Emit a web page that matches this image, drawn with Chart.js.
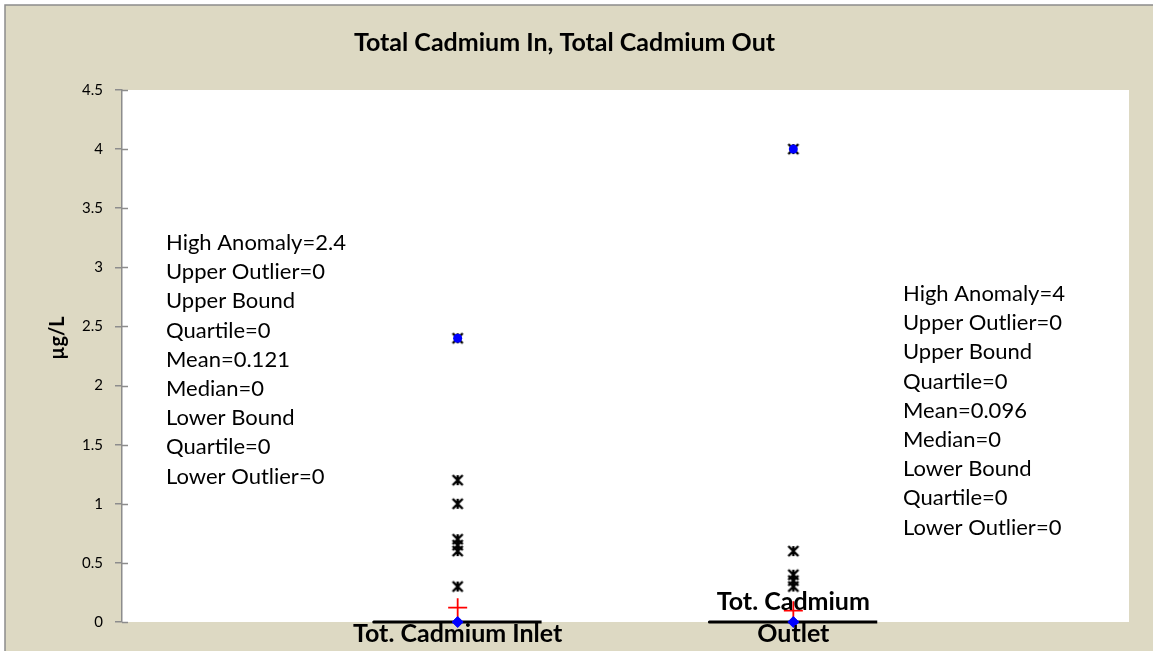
<!DOCTYPE html>
<html>
<head>
<meta charset="utf-8">
<script src="https://cdn.jsdelivr.net/npm/chart.js@4.4.0/dist/chart.umd.min.js"></script>
<style>
  html, body { margin: 0; padding: 0; background: #fff; }
  #wrap { width: 1153px; height: 651px; }
</style>
</head>
<body>
<div id="wrap"><canvas id="chart"></canvas></div>
<script>
// Data
const categories = ['Tot. Cadmium Inlet', 'Tot. Cadmium Outlet'];
const categoryLines = [['Tot. Cadmium Inlet'], ['Tot. Cadmium', 'Outlet']];
const inletValues = [2.4, 1.2, 1.0, 0.7, 0.65, 0.6, 0.3];
const outletValues = [4.0, 0.6, 0.4, 0.35, 0.3];
const highAnomaly = [2.4, 4.0];
const means = [0.121, 0.096];
const medians = [0, 0];
const lowerQuartiles = [0, 0];
const upperQuartiles = [0, 0];
const yMin = 0, yMax = 4.5, yStep = 0.5;
const yTitle = 'µg/L';

const inletStats = ['High Anomaly=2.4', 'Upper Outlier=0', 'Upper Bound', 'Quartile=0',
  'Mean=0.121', 'Median=0', 'Lower Bound', 'Quartile=0', 'Lower Outlier=0'];
const outletStats = ['High Anomaly=4', 'Upper Outlier=0', 'Upper Bound', 'Quartile=0',
  'Mean=0.096', 'Median=0', 'Lower Bound', 'Quartile=0', 'Lower Outlier=0'];

const FONT = 'Lato, "Open Sans", sans-serif';
const BOX_HALF = 0.25;

// Excel style asterisk marker
function makeAsterisk(size, color) {
  const c = document.createElement('canvas');
  c.width = c.height = size;
  const g = c.getContext('2d');
  g.strokeStyle = color;
  g.lineWidth = 2.4;
  const a = 2, b = size - 2, m = size / 2;
  g.beginPath();
  g.moveTo(a, a); g.lineTo(b, b);
  g.moveTo(b, a); g.lineTo(a, b);
  g.moveTo(m, a); g.lineTo(m, b);
  g.stroke();
  return c;
}
const asterisk = makeAsterisk(14, '#000');

const seriesByCat = [inletValues, outletValues];
const obsPoints = [];
seriesByCat.forEach((vals, i) => vals.forEach(v => obsPoints.push({ x: i + 1, y: v })));

const boxDatasets = categories.map((c, i) => {
  const x = i + 1;
  return {
    type: 'line',
    label: c + ' box',
    data: [
      { x: x - BOX_HALF, y: lowerQuartiles[i] },
      { x: x + BOX_HALF, y: lowerQuartiles[i] },
      { x: x + BOX_HALF, y: upperQuartiles[i] },
      { x: x - BOX_HALF, y: upperQuartiles[i] },
      { x: x - BOX_HALF, y: lowerQuartiles[i] }
    ],
    borderColor: '#000',
    borderWidth: 3,
    borderCapStyle: 'round',
    pointRadius: 0,
    fill: false,
    clip: false
  };
});

const bgPlugin = {
  id: 'bg',
  beforeDraw(chart) {
    const { ctx, chartArea: a, width, height } = chart;
    ctx.save();
    ctx.fillStyle = '#DDD9C3';
    ctx.fillRect(5, 5, width, height);
    ctx.strokeStyle = '#8c8c8c';
    ctx.lineWidth = 1.5;
    ctx.strokeRect(5, 5, width + 10, height + 10);
    ctx.fillStyle = '#fff';
    ctx.fillRect(a.left, a.top, a.right - a.left, a.bottom - a.top);
    ctx.restore();
  }
};

const textPlugin = {
  id: 'texts',
  afterDraw(chart) {
    const { ctx } = chart;
    const xs = chart.scales.x;
    const ys = chart.scales.y;
    const area = chart.chartArea;
    ctx.save();
    // inner half of the crossing tick marks
    ctx.strokeStyle = '#8c8c8c';
    ctx.lineWidth = 1.5;
    ys.ticks.forEach(t => {
      const py = Math.round(ys.getPixelForValue(t.value)) + 0.5;
      ctx.beginPath();
      ctx.moveTo(area.left, py);
      ctx.lineTo(area.left + 6, py);
      ctx.stroke();
    });
    // y axis title
    ctx.fillStyle = '#000';
    ctx.font = 'bold 20px ' + FONT;
    ctx.textAlign = 'center';
    ctx.textBaseline = 'middle';
    ctx.save();
    ctx.translate(58, 338);
    ctx.rotate(-Math.PI / 2);
    ctx.fillText(yTitle, 0, 0);
    ctx.restore();
    // category labels
    ctx.font = 'bold 25px ' + FONT;
    categoryLines.forEach((lines, i) => {
      const px = xs.getPixelForValue(i + 1);
      lines.forEach((ln, j) => {
        ctx.fillText(ln, px, area.bottom + 12 - (lines.length - 1 - j) * 32);
      });
    });
    // statistics text boxes
    ctx.font = '22px ' + FONT;
    ctx.textAlign = 'left';
    inletStats.forEach((s, j) => ctx.fillText(s, 166, 243 + j * 29.2));
    outletStats.forEach((s, j) => ctx.fillText(s, 903, 294 + j * 29.2));
    ctx.restore();
  }
};

new Chart(document.getElementById('chart'), {
  type: 'scatter',
  data: {
    datasets: [
      {
        label: 'Median',
        data: medians.map((v, i) => ({ x: i + 1, y: v })),
        pointStyle: 'rectRot',
        pointRadius: 5.5,
        backgroundColor: '#0000ff',
        borderColor: '#0000ff',
        borderWidth: 1,
        clip: false
      },
      {
        label: 'Mean',
        data: means.map((v, i) => ({ x: i + 1, y: v })),
        pointStyle: 'cross',
        pointRadius: 9.5,
        borderColor: '#ff0000',
        borderWidth: 1.8,
        clip: false
      },
      {
        label: 'High Anomaly',
        data: highAnomaly.map((v, i) => ({ x: i + 1, y: v })),
        pointStyle: 'circle',
        pointRadius: 4.5,
        backgroundColor: '#0000ff',
        borderColor: '#0000ff',
        borderWidth: 0
      },
      {
        label: 'Observations',
        data: obsPoints,
        pointStyle: asterisk,
        pointRadius: 7
      },
      ...boxDatasets
    ]
  },
  options: {
    responsive: true,
    maintainAspectRatio: false,
    animation: false,
    events: [],
    layout: { padding: { left: 0, right: 24, top: 0, bottom: 29 } },
    plugins: {
      legend: { display: false },
      tooltip: { enabled: false },
      title: {
        display: true,
        text: 'Total Cadmium In, Total Cadmium Out',
        color: '#000',
        font: { family: FONT, size: 25, weight: 'bold', lineHeight: 1.2 },
        padding: { top: 28, bottom: 32 }
      }
    },
    scales: {
      x: {
        type: 'linear',
        min: 0,
        max: categories.length + 1,
        display: false
      },
      y: {
        min: yMin,
        max: yMax,
        afterFit(scale) { scale.width = 122; },
        ticks: {
          stepSize: yStep,
          padding: 12,
          color: '#000',
          font: { family: FONT, size: 15 },
          callback: v => String(Math.round(v * 10) / 10)
        },
        grid: {
          drawOnChartArea: false,
          drawTicks: true,
          tickLength: 7,
          color: '#8c8c8c',
          lineWidth: 1.5
        },
        border: { display: true, color: '#8c8c8c', width: 1.5 }
      }
    }
  },
  plugins: [bgPlugin, textPlugin]
});
</script>
</body>
</html>
